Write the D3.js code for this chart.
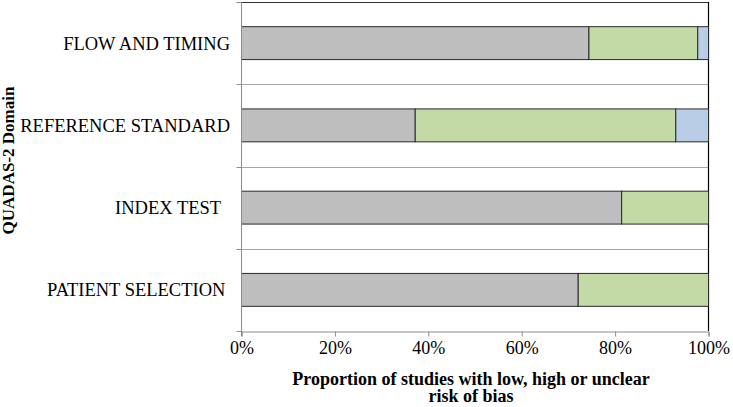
<!DOCTYPE html>
<html>
<head>
<meta charset="utf-8">
<script src="https://cdn.jsdelivr.net/npm/d3@7/dist/d3.min.js"></script>
<style>
  html, body { margin: 0; padding: 0; background: #fff; }
  svg text { font-family: "Liberation Serif", "Times New Roman", serif; fill: #000; }
</style>
</head>
<body>
<svg id="chart" width="733" height="407"></svg>
<script>
// ---- data ----
const categories = ["FLOW AND TIMING", "REFERENCE STANDARD", "INDEX TEST  ", "PATIENT SELECTION "];
const lowRisk     = [74.4, 37.2, 81.4, 72.1];
const highRisk    = [23.3, 55.8, 18.6, 27.9];
const unclearRisk = [2.3, 7.0, 0, 0];
const seriesNames = ["low", "high", "unclear"];
const xTicks = [0, 0.2, 0.4, 0.6, 0.8, 1.0];
const xTitleLines = ["Proportion of studies with low, high or unclear", "risk of bias"];
const yTitle = "QUADAS-2 Domain";

const colors = { low: "#BEBEBE", high: "#C3D9A6", unclear: "#B9CDE6" };

const rows = categories.map((c, i) => ({
  cat: c, low: lowRisk[i] / 100, high: highRisk[i] / 100, unclear: unclearRisk[i] / 100
}));

const svg = d3.select("#chart");
const pL = 241.5, pR = 708.5, pT = 2, pB = 331;

const x = d3.scaleLinear().domain([0, 1]).range([pL, pR]);
const y = d3.scaleBand().domain(categories).range([pT, pB]).padding(0);
const step = y.step();

// gridlines at category boundaries
const bounds = d3.range(1, categories.length).map(i => pT + i * step);
svg.append("g").selectAll("line").data(bounds).join("line")
  .attr("x1", pL).attr("x2", pR)
  .attr("y1", d => Math.round(d) + 0.5).attr("y2", d => Math.round(d) + 0.5)
  .attr("stroke", "#A6A6A6").attr("stroke-width", 1);

// plot border top & right
svg.append("line").attr("x1", pL).attr("x2", pR).attr("y1", pT + 0.5).attr("y2", pT + 0.5)
  .attr("stroke", "#333").attr("stroke-width", 1);
svg.append("line").attr("x1", pR).attr("x2", pR).attr("y1", pT).attr("y2", pB)
  .attr("stroke", "#000").attr("stroke-width", 1.2);

// stacked bars
const stack = d3.stack().keys(seriesNames)(rows);
svg.append("g").selectAll("g").data(stack).join("g")
  .attr("fill", d => colors[d.key])
  .selectAll("rect").data(d => d.filter(p => p[1] - p[0] > 0)).join("rect")
  .attr("x", d => x(d[0]))
  .attr("width", d => x(d[1]) - x(d[0]))
  .attr("y", d => y(d.data.cat) + step * 0.3)
  .attr("height", step * 0.4)
  .attr("stroke", "#2a2a2a").attr("stroke-width", 1);

// left axis (gray) with ticks at boundaries
const allBounds = [pT].concat(bounds).concat([pB]);
svg.append("line").attr("x1", pL).attr("x2", pL).attr("y1", pT).attr("y2", pB + 5)
  .attr("stroke", "#8C8C8C").attr("stroke-width", 1);
svg.append("g").selectAll("line").data(allBounds).join("line")
  .attr("x1", pL - 5).attr("x2", pL)
  .attr("y1", d => Math.round(d) + 0.5).attr("y2", d => Math.round(d) + 0.5)
  .attr("stroke", "#8C8C8C");

// category labels
svg.append("g").selectAll("text").data(categories).join("text")
  .attr("x", 230)
  .attr("y", d => y(d) + step / 2)
  .attr("dy", "0.35em")
  .attr("text-anchor", "end")
  .style("white-space", "pre")
  .style("font-size", "18.5px")
  .text(d => d);

// bottom axis
const xAxis = d3.axisBottom(x).tickValues(xTicks).tickFormat(d3.format(".0%")).tickSize(5).tickPadding(5);
const gx = svg.append("g").attr("transform", `translate(0,${pB + 0.5})`).call(xAxis);
gx.select(".domain").attr("stroke", "#8C8C8C");
gx.selectAll(".tick line").attr("stroke", "#8C8C8C");
gx.selectAll(".tick text").style("font-size", "18px")
  .style("font-family", "'Liberation Serif', 'Times New Roman', serif").attr("fill", "#000");

// x title
svg.append("g").selectAll("text").data(xTitleLines).join("text")
  .attr("x", 471)
  .attr("y", (d, i) => 385 + i * 17)
  .attr("text-anchor", "middle")
  .style("font-size", "18px").style("font-weight", "bold")
  .text(d => d);

// y title
svg.append("text")
  .attr("transform", `translate(14,160.5) rotate(-90)`)
  .attr("text-anchor", "middle")
  .style("font-size", "17px").style("font-weight", "bold")
  .text(yTitle);
</script>
</body>
</html>
